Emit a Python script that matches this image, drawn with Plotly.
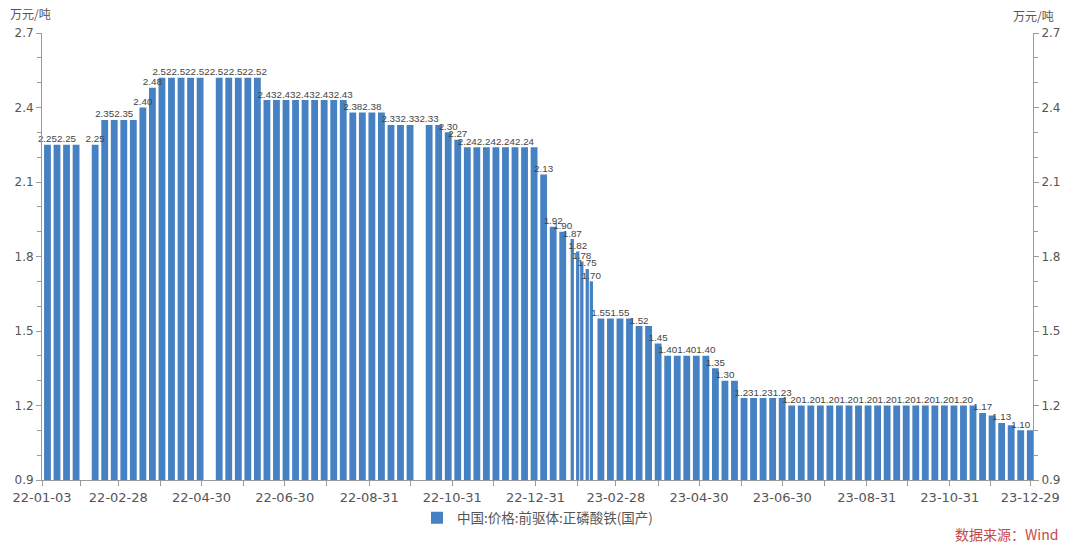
import pandas as pd
import plotly.graph_objects as go

# ---------------- data ----------------
dates_2022 = [
    "2022-01-07", "2022-01-14", "2022-01-21", "2022-01-28",
    "2022-02-11", "2022-02-18", "2022-02-25", "2022-03-04", "2022-03-11",
    "2022-03-18", "2022-03-25", "2022-04-01", "2022-04-08", "2022-04-15",
    "2022-04-22", "2022-04-29",
    "2022-05-13", "2022-05-20", "2022-05-27", "2022-06-03", "2022-06-10",
    "2022-06-17", "2022-06-24", "2022-07-01", "2022-07-08", "2022-07-15",
    "2022-07-22", "2022-07-29", "2022-08-05", "2022-08-12",
    "2022-08-19", "2022-08-26", "2022-09-02", "2022-09-09",
    "2022-09-16", "2022-09-23", "2022-09-30",
    "2022-10-14", "2022-10-21", "2022-10-28", "2022-11-04",
    "2022-11-11", "2022-11-18", "2022-11-25", "2022-12-02", "2022-12-09",
    "2022-12-16", "2022-12-23", "2022-12-30",
]
values_2022 = [
    2.25, 2.25, 2.25, 2.25,
    2.25, 2.35, 2.35, 2.35, 2.35,
    2.40, 2.48, 2.52, 2.52, 2.52,
    2.52, 2.52,
    2.52, 2.52, 2.52, 2.52, 2.52,
    2.43, 2.43, 2.43, 2.43, 2.43,
    2.43, 2.43, 2.43, 2.43,
    2.38, 2.38, 2.38, 2.38,
    2.33, 2.33, 2.33,
    2.33, 2.33, 2.30, 2.27,
    2.24, 2.24, 2.24, 2.24, 2.24,
    2.24, 2.24, 2.24,
]
dates_2023 = [
    "2023-01-06", "2023-01-13", "2023-01-20", "2023-01-27", "2023-01-31",
    "2023-02-03", "2023-02-07", "2023-02-10",
    "2023-02-17", "2023-02-24", "2023-03-03", "2023-03-10",
    "2023-03-17", "2023-03-24", "2023-03-31",
    "2023-04-07", "2023-04-14", "2023-04-21", "2023-04-28", "2023-05-05",
    "2023-05-12", "2023-05-19", "2023-05-26",
    "2023-06-02", "2023-06-09", "2023-06-16", "2023-06-23", "2023-06-30",
    "2023-07-07", "2023-07-14", "2023-07-21", "2023-07-28", "2023-08-04",
    "2023-08-11", "2023-08-18", "2023-08-25", "2023-09-01", "2023-09-08",
    "2023-09-15", "2023-09-22", "2023-09-29", "2023-10-06", "2023-10-13",
    "2023-10-20", "2023-10-27", "2023-11-03", "2023-11-10", "2023-11-17",
    "2023-11-24", "2023-12-01", "2023-12-08", "2023-12-15", "2023-12-22",
    "2023-12-29",
]
values_2023 = [
    2.13, 1.92, 1.90, 1.87, 1.82,
    1.78, 1.75, 1.70,
    1.55, 1.55, 1.55, 1.55,
    1.52, 1.52, 1.45,
    1.40, 1.40, 1.40, 1.40, 1.40,
    1.35, 1.30, 1.30,
    1.23, 1.23, 1.23, 1.23, 1.23,
    1.20, 1.20, 1.20, 1.20, 1.20,
    1.20, 1.20, 1.20, 1.20, 1.20,
    1.20, 1.20, 1.20, 1.20, 1.20,
    1.20, 1.20, 1.20, 1.20, 1.20,
    1.17, 1.16, 1.13, 1.12, 1.10,
    1.10,
]

tick_dates = [
    "2022-01-03", "2022-01-31", "2022-02-28", "2022-03-31", "2022-04-30",
    "2022-05-31", "2022-06-30", "2022-07-31", "2022-08-31", "2022-09-30",
    "2022-10-31", "2022-11-30", "2022-12-31", "2023-01-31", "2023-02-28",
    "2023-03-31", "2023-04-30", "2023-05-31", "2023-06-30", "2023-07-31",
    "2023-08-31", "2023-09-30", "2023-10-31", "2023-11-30", "2023-12-29",
]
tick_labels = [
    "22-01-03", "", "22-02-28", "", "22-04-30", "", "22-06-30", "",
    "22-08-31", "", "22-10-31", "", "22-12-31", "", "23-02-28", "",
    "23-04-30", "", "23-06-30", "", "23-08-31", "", "23-10-31", "",
    "23-12-29",
]

series_name = "中国:价格:前驱体:正磷酸铁(国产)"
unit_label = "万元/吨"
source_label = "数据来源：Wind"

# ---------------- build ----------------
dates = dates_2022 + dates_2023
values = values_2022 + values_2023
stamps = [pd.Timestamp(d) for d in dates]

DAY = 86400000
# bar width: a normal week slot, narrower where observations are closer together
widths = []
for i, t in enumerate(stamps):
    gaps = []
    if i > 0:
        gaps.append((t - stamps[i - 1]).days)
    if i < len(stamps) - 1:
        gaps.append((stamps[i + 1] - t).days)
    g = min(gaps)
    widths.append((5 if g >= 7 else 2.4) * DAY)

# value labels: skip a label that would sit on top of the previous one
lab_x, lab_y, lab_t = [], [], []
last = None
for t, d, v in zip(stamps, dates, values):
    if last is None or (t - last[0]).days >= 14 or abs(v - last[1]) >= 0.0199:
        lab_x.append(d)
        lab_y.append(v)
        lab_t.append(f"{v:.2f}")
        last = (t, v)

BAR = "#4682c3"
AXIS = "#9a9a9a"
TXT = "#555555"
FONT = "DejaVu Sans, Noto Sans CJK SC, sans-serif"
LBL = "Liberation Sans, Arial, sans-serif"
CJK = "Noto Sans CJK SC, sans-serif"

fig = go.Figure()
fig.add_trace(go.Bar(
    x=dates, y=values, name=series_name,
    marker=dict(color=BAR, line=dict(width=0)),
    width=widths,
))
fig.add_trace(go.Scatter(
    x=lab_x, y=lab_y, text=lab_t, mode="text",
    textposition="top center",
    textfont=dict(size=9.8, color="#444444", family=LBL),
    showlegend=False, hoverinfo="skip", cliponaxis=False,
))
fig.add_trace(go.Scatter(
    x=dates, y=values, yaxis="y2", mode="markers",
    marker=dict(opacity=0), showlegend=False, hoverinfo="skip",
))

yaxis_common = dict(
    range=[0.9, 2.7], tick0=0.9, dtick=0.3, tickformat=".1f",
    ticks="outside", ticklen=5, tickcolor=AXIS,
    minor=dict(tick0=0.9, dtick=0.1, ticks="outside", ticklen=4, tickcolor=AXIS),
    showline=True, linecolor=AXIS, linewidth=1,
    showgrid=False, zeroline=False,
    tickfont=dict(size=12, color=TXT, family=FONT),
)

fig.update_layout(
    width=1072, height=545,
    margin=dict(l=38, r=34, t=33, b=62),
    paper_bgcolor="white", plot_bgcolor="white",
    font=dict(family=FONT, size=12, color=TXT),
    showlegend=True,
    legend=dict(orientation="h", x=0.5, xanchor="center", y=-0.085, yanchor="middle",
                font=dict(size=13.5, color=TXT, family=CJK)),
    xaxis=dict(
        type="date", range=["2022-01-03", "2023-12-31"],
        tickmode="array", tickvals=tick_dates, ticktext=tick_labels,
        ticks="outside", ticklen=5, tickcolor=AXIS,
        showline=True, linecolor=AXIS, linewidth=1,
        showgrid=False, zeroline=False,
        tickfont=dict(size=13, color=TXT, family=FONT),
    ),
    yaxis=yaxis_common,
    yaxis2=dict(overlaying="y", side="right", **yaxis_common),
    annotations=[
        dict(text=unit_label, xref="paper", yref="paper", x=-0.012, y=1.044,
             xanchor="center", yanchor="middle", showarrow=False,
             font=dict(size=12, color=TXT, family=CJK)),
        dict(text=unit_label, xref="paper", yref="paper", x=1.0, y=1.04,
             xanchor="center", yanchor="middle", showarrow=False,
             font=dict(size=12, color=TXT, family=CJK)),
        dict(text=source_label, xref="paper", yref="paper", x=1.027, y=-0.12,
             xanchor="right", yanchor="middle", showarrow=False,
             font=dict(size=14, color="#c8484a", family=CJK)),
    ],
)

fig.write_html("out.html")
